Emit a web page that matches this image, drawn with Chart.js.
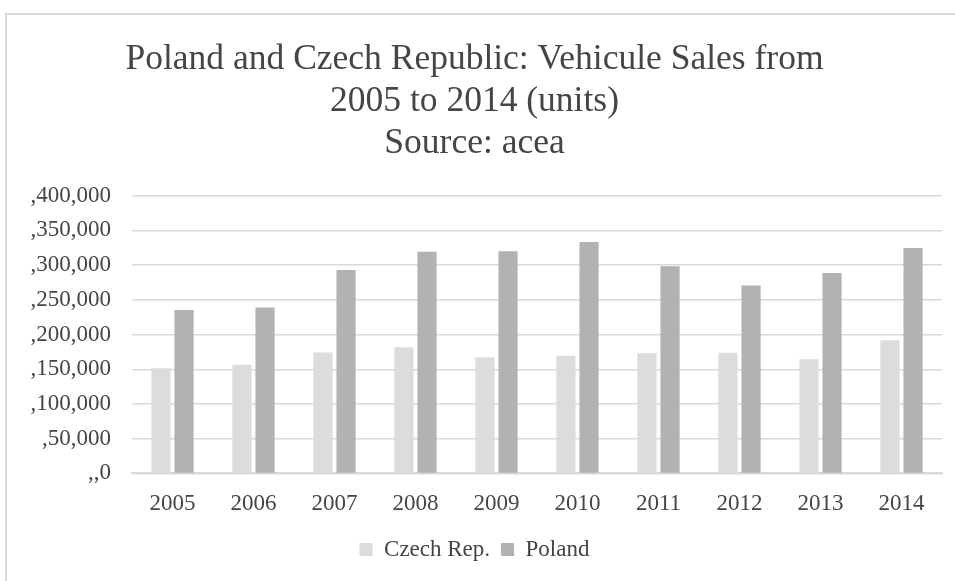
<!DOCTYPE html>
<html>
<head>
<meta charset="utf-8">
<script src="https://cdn.jsdelivr.net/npm/chart.js@4"></script>
<style>
  html, body { margin: 0; padding: 0; background: #fff; width: 955px; height: 581px; overflow: hidden; }
  #frame { position: absolute; left: 5px; top: 13px; width: 960px; height: 580px; border-left: 2px solid #d9d9d9; border-top: 2px solid #d9d9d9; }
  #wrap { position: absolute; left: 7px; top: 15px; width: 948px; height: 566px; }
</style>
</head>
<body>
<div id="frame"></div>
<div id="wrap"><canvas id="chart"></canvas></div>
<script>
// values
const years = ["2005", "2006", "2007", "2008", "2009", "2010", "2011", "2012", "2013", "2014"];
const czech = [151500, 156400, 174100, 181700, 167400, 169300, 173100, 173700, 164500, 191800];
const poland = [235500, 238800, 293100, 319400, 319900, 333400, 298300, 270500, 288800, 324700];
const titleLines = ["Poland and Czech Republic: Vehicule Sales from", "2005 to 2014 (units)", "Source: acea"];

const SERIF = "'Liberation Serif', 'Times New Roman', serif";
const TEXT = "#454545";

// odd leading-comma format as in the source picture
const fmtTick = v => v === 0 ? ",,0" : "," + v.toLocaleString("en-US");

new Chart(document.getElementById("chart"), {
  type: "bar",
  data: {
    labels: years,
    datasets: [
      { label: "Czech Rep.", data: czech, backgroundColor: "#dcdcdc", categoryPercentage: 0.57, barPercentage: 0.83 },
      { label: "Poland", data: poland, backgroundColor: "#b2b2b2", categoryPercentage: 0.57, barPercentage: 0.83 },
    ],
  },
  options: {
    responsive: true,
    maintainAspectRatio: false,
    animation: false,
    layout: { padding: { left: 0, right: 13, top: 0, bottom: 10 } },
    plugins: {
      title: {
        display: true,
        text: titleLines,
        color: TEXT,
        font: { family: SERIF, size: 35.5, weight: "normal", lineHeight: 1.18 },
        padding: { top: 24, bottom: 31 },
      },
      legend: {
        position: "bottom",
        labels: {
          color: TEXT,
          font: { family: SERIF, size: 23 },
          boxWidth: 13, boxHeight: 13, padding: 11,
        },
      },
      tooltip: { enabled: false },
    },
    scales: {
      x: {
        grid: { display: false },
        border: { color: "#d9d9d9", width: 2 },
        ticks: { color: TEXT, font: { family: SERIF, size: 23 }, padding: 9 },
      },
      y: {
        min: 0, max: 400000,
        afterFit: s => { s.width = 125; },
        grid: { color: "#d9d9d9", lineWidth: 1.5, drawTicks: false },
        border: { display: false },
        ticks: { stepSize: 50000, color: TEXT, font: { family: SERIF, size: 23 }, padding: 21, callback: fmtTick },
      },
    },
  },
});
</script>
</body>
</html>
